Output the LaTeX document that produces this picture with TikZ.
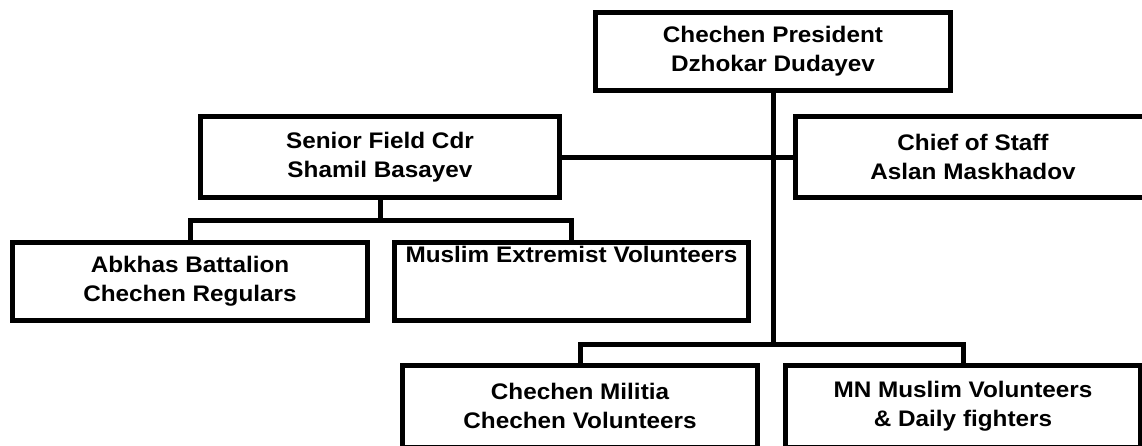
\documentclass[tikz,border=0pt]{standalone}
\usepackage{fontspec}
\setmainfont{Liberation Sans}[FakeStretch=1.08]
\usetikzlibrary{positioning}

\begin{document}
\begin{tikzpicture}[
    x=1pt, y=-1pt,
    cmdbox/.style={rectangle, draw, line width=5pt, minimum width=355pt, minimum height=81.5pt, align=center, inner sep=0pt, outer sep=0pt, font=\bfseries\fontsize{22.5}{29}\selectfont},
    link/.style={line width=5pt}
  ]
    \useasboundingbox (0,0) rectangle (1142,445);
    \clip (0,0) rectangle (1142,445);
    % Nodes
    \node[cmdbox, minimum height=78pt] (pres) at (773,51.5) {Chechen President\\Dzhokar Dudayev};
    \node[cmdbox, minimum width=359pt] (cdr) at (380,157) {Senior Field Cdr\\Shamil Basayev};
    \node[cmdbox, right=236pt of cdr] (staff) {Chief of Staff\\Aslan Maskhadov};
    \node[cmdbox, minimum height=78pt] (abkhas) at (190,281.5) {Abkhas Battalion\\Chechen Regulars};
    \node[cmdbox, minimum width=354pt, minimum height=78pt, text depth=54pt, right=27pt of abkhas] (extrem) {Muslim Extremist Volunteers};
    \node[cmdbox, minimum height=82pt] (militia) at (580,406) {Chechen Militia\\Chechen Volunteers};
    \node[cmdbox, minimum height=82pt, right=28pt of militia] (mnvol) {MN Muslim Volunteers\\\& Daily fighters};

    % Links
    \draw[link] (pres.south) -- ++(0,254) coordinate (presplit);
    \draw[link] (militia.north) |- (presplit) -| (mnvol.north);
    \draw[link] (cdr.east) -- (staff.west);
    \draw[link] (cdr.south) -- ++(0,22.5) coordinate (cdrsplit);
    \draw[link] (abkhas.north) |- (cdrsplit) -| (extrem.north);
\end{tikzpicture}
\end{document}
